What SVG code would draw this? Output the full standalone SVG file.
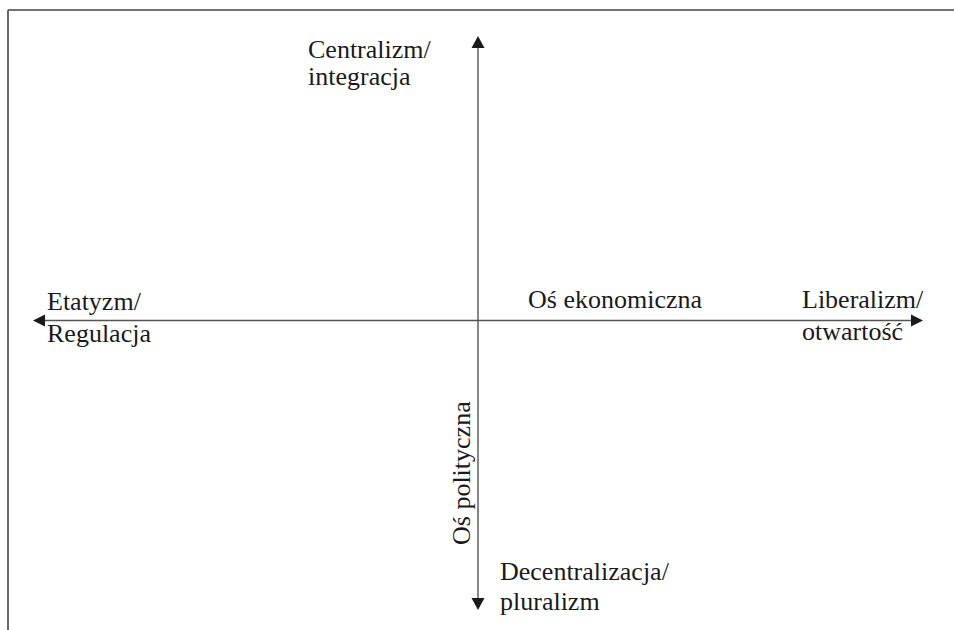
<svg xmlns="http://www.w3.org/2000/svg" width="954" height="630" viewBox="0 0 954 630">
<style>
.frame{stroke:#444;stroke-width:1.6;fill:none}
.axis{stroke:#555;stroke-width:1.4;fill:none}
.head{fill:#1a1a1a}
text{font-family:"Liberation Serif","Times New Roman",serif;font-size:26px;fill:#1a1a1a}
</style>
<rect width="954" height="630" fill="#fff"/>
<g id="frame">
<line class="frame" x1="8" y1="10" x2="954" y2="10"/>
<line class="frame" x1="8" y1="10" x2="8" y2="630"/>
</g>
<g id="connectors">
<line class="axis" x1="44" y1="320.5" x2="913" y2="320.5"/>
<polygon class="head" points="33,320.5 45,314.5 45,326.5"/>
<polygon class="head" points="923,320.5 911,314.5 911,326.5"/>
<line class="axis" x1="478" y1="46" x2="478" y2="600"/>
<polygon class="head" points="478,36 471.5,48 484.5,48"/>
<polygon class="head" points="478,610 471.5,598 484.5,598"/>
</g>
<g id="top-label"><text x="308" y="58">Centralizm/</text><text x="308" y="85">integracja</text></g>
<g id="left-label"><text x="47" y="310">Etatyzm/</text><text x="47" y="342">Regulacja</text></g>
<g id="right-label"><text x="802" y="308">Liberalizm/</text><text x="802" y="340">otwartość</text></g>
<g id="econ-label"><text x="528" y="308">Oś ekonomiczna</text></g>
<g id="pol-label"><text transform="translate(470,545) rotate(-90)">Oś polityczna</text></g>
<g id="bottom-label"><text x="500" y="580">Decentralizacja/</text><text x="500" y="610">pluralizm</text></g>
</svg>
